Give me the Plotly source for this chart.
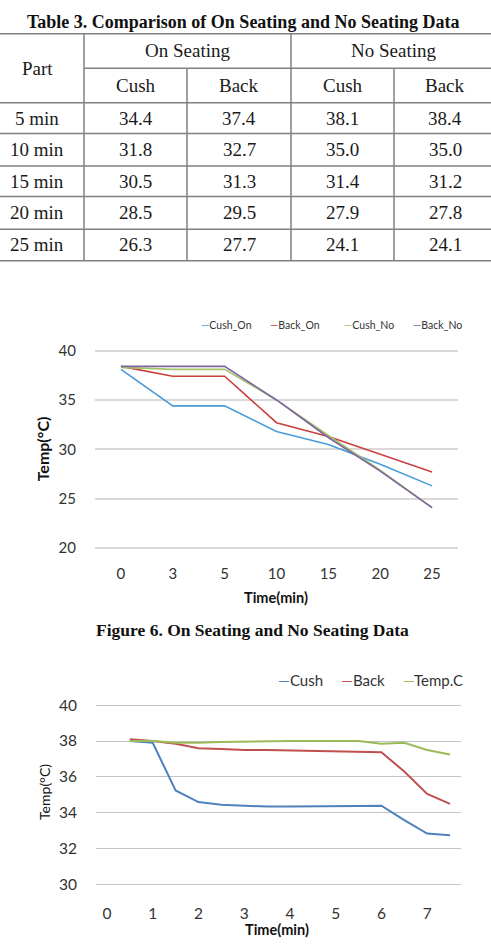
import plotly.graph_objects as go

W, H = 491, 948

# ---------------- data ----------------
parts = ["5 min", "10 min", "15 min", "20 min", "25 min"]
on_cush = [34.4, 31.8, 30.5, 28.5, 26.3]
on_back = [37.4, 32.7, 31.3, 29.5, 27.7]
no_cush = [38.1, 35.0, 31.4, 27.9, 24.1]
no_back = [38.4, 35.0, 31.2, 27.8, 24.1]

fig1_times = ["0", "3", "5", "10", "15", "20", "25"]
cush_on = [38.1, 34.4, 34.4, 31.8, 30.5, 28.5, 26.3]
back_on = [38.4, 37.4, 37.4, 32.7, 31.3, 29.5, 27.7]
cush_no = [38.3, 38.1, 38.1, 35.0, 31.4, 27.9, 24.1]
back_no = [38.4, 38.4, 38.4, 35.0, 31.2, 27.8, 24.1]

fig2_times = [0.5, 1.0, 1.5, 2.0, 2.5, 3.0, 3.5, 4.0, 4.5, 5.0, 5.5, 6.0, 6.5, 7.0, 7.5]
cush2 = [38.0, 37.9, 35.25, 34.6, 34.45, 34.38, 34.35, 34.35, 34.35, 34.35, 34.38, 34.4, 33.6, 32.85, 32.75]
back2 = [38.1, 38.0, 37.85, 37.6, 37.55, 37.5, 37.5, 37.48, 37.45, 37.42, 37.4, 37.38, 36.3, 35.05, 34.5]
tempc = [38.0, 38.0, 37.9, 37.9, 37.95, 37.98, 38.0, 38.0, 38.0, 38.0, 38.0, 37.85, 37.9, 37.5, 37.25]

# ---------------- styles ----------------
SERIF = "Liberation Serif"
SANS = "Lato"
C1 = {"Cush_On": "#4a9cd6", "Back_On": "#c9413f", "Cush_No": "#a5c468", "Back_No": "#8064a2"}
C2 = {"Cush": "#4f81bd", "Back": "#c0504d", "Temp.C": "#9bbb59"}

def py(px):
    return 1 - px / H

def pxx(px):
    return px / W

fig = go.Figure()

# Chart 1 (categorical time axis)
for name, vals in [("Cush_On", cush_on), ("Back_On", back_on), ("Cush_No", cush_no), ("Back_No", back_no)]:
    fig.add_trace(go.Scatter(x=fig1_times, y=vals, mode="lines", name=name,
                             line=dict(color=C1[name], width=1.6), xaxis="x", yaxis="y",
                             showlegend=False))

# Chart 2
for name, vals in [("Cush", cush2), ("Back", back2), ("Temp.C", tempc)]:
    fig.add_trace(go.Scatter(x=fig2_times, y=vals, mode="lines", name=name,
                             line=dict(color=C2[name], width=2), xaxis="x2", yaxis="y2",
                             showlegend=False))

# invisible anchor trace for table axis
fig.add_trace(go.Scatter(x=[0], y=[0], mode="markers", marker=dict(opacity=0),
                         xaxis="x3", yaxis="y3", showlegend=False, hoverinfo="skip"))

# ---------------- table (drawn on its own pixel-unit axis) ----------------
col_edges = [-10, 84, 187, 291, 394, 496]
row_edges = [27, 62, 97, 128, 161, 192, 225, 257]
line_col = "#808080"
shapes = []
def tline(x0, y0, x1, y1):
    shapes.append(dict(type="line", xref="x3", yref="y3", x0=x0, y0=y0, x1=x1, y1=y1,
                       line=dict(color=line_col, width=1.5), layer="above"))
tline(0, row_edges[0], W, row_edges[0])
tline(col_edges[1], row_edges[1], W, row_edges[1])
for r in row_edges[2:]:
    tline(0, r, W, r)
tline(col_edges[1], row_edges[0], col_edges[1], row_edges[-1])
tline(col_edges[3], row_edges[0], col_edges[3], row_edges[-1])
tline(col_edges[2], row_edges[1], col_edges[2], row_edges[-1])
tline(col_edges[4], row_edges[1], col_edges[4], row_edges[-1])

annotations = []
def cell(text, xc, yc, size=19, bold=False, color="#1a1a1a"):
    annotations.append(dict(text=("<b>%s</b>" % text) if bold else text, x=xc, y=yc,
                            xref="x3", yref="y3", showarrow=False,
                            font=dict(family=SERIF, size=size, color=color),
                            xanchor="center", yanchor="middle"))

cc = [(col_edges[i] + col_edges[i + 1]) / 2 for i in range(5)]
cell("Part", cc[0], (row_edges[0] + row_edges[2]) / 2)
cell("On Seating", (col_edges[1] + col_edges[3]) / 2, (row_edges[0] + row_edges[1]) / 2)
cell("No Seating", (col_edges[3] + col_edges[5]) / 2, (row_edges[0] + row_edges[1]) / 2)
for i, t in enumerate(["Cush", "Back", "Cush", "Back"]):
    cell(t, cc[i + 1], (row_edges[1] + row_edges[2]) / 2)
for r, p in enumerate(parts):
    yc = (row_edges[r + 2] + row_edges[r + 3]) / 2
    cell(p, cc[0], yc)
    for c, arr in enumerate([on_cush, on_back, no_cush, no_back]):
        cell("%.1f" % arr[r], cc[c + 1], yc)

# titles
annotations.append(dict(text="<b>Table 3. Comparison of On Seating and No Seating Data</b>",
                        x=pxx(243), y=py(15), xref="paper", yref="paper", showarrow=False,
                        font=dict(family=SERIF, size=18, color="#111"), xanchor="center", yanchor="middle"))
annotations.append(dict(text="<b>Figure 6. On Seating and No Seating Data</b>",
                        x=pxx(253), y=py(631), xref="paper", yref="paper", showarrow=False,
                        font=dict(family=SERIF, size=17.5, color="#111"), xanchor="center", yanchor="middle"))

# axis titles
def ann(text, xpx, ypx, size, angle=0, bold=True, color="#111", family=SANS):
    annotations.append(dict(text=("<b>%s</b>" % text) if bold else text, x=pxx(xpx), y=py(ypx),
                            xref="paper", yref="paper", showarrow=False, textangle=angle,
                            font=dict(family=family, size=size, color=color),
                            xanchor="center", yanchor="middle"))
ann("Temp(°C)", 42, 448, 16, angle=-90)
ann("Time(min)", 276, 598, 14.5)
ann("Temp(°C)", 45, 795, 14, angle=-90, bold=False)
ann("Time(min)", 277, 934, 14.5)

# manual compact legends
def leg(items, colors, y, x_starts, size):
    for (name, x0) in zip(items, x_starts):
        annotations.append(dict(text="<span style='color:%s'>—</span>%s" % (colors[name], name),
                                x=pxx(x0), y=py(y), xref="paper", yref="paper", showarrow=False,
                                font=dict(family=SANS, size=size, color="#333"),
                                xanchor="left", yanchor="middle"))
leg(["Cush_On", "Back_On", "Cush_No", "Back_No"], C1, 322, [199, 268, 342, 411], 10.5)
leg(["Cush", "Back", "Temp.C"], C2, 682, [276, 339, 401], 15)

tickfont1 = dict(family=SANS, size=15, color="#333")
tickfont2 = dict(family=SANS, size=15.5, color="#333")

fig.update_layout(
    width=W, height=H, margin=dict(l=0, r=0, t=0, b=0),
    paper_bgcolor="white", plot_bgcolor="rgba(0,0,0,0)",
    shapes=shapes, annotations=annotations, showlegend=False,
    xaxis=dict(domain=[pxx(95), pxx(458)], range=[-0.5, 6.5], type="category",
               showgrid=False, zeroline=False, showline=False, ticks="",
               tickfont=tickfont1, ticklabelstandoff=12, anchor="y", fixedrange=True),
    yaxis=dict(domain=[py(551), py(345)], range=[19.7, 40.3], tickvals=[20, 25, 30, 35, 40],
               showgrid=True, gridcolor="#d9d9d9", gridwidth=1.5, zeroline=False,
               showline=False, ticks="", tickfont=tickfont1, ticklabelstandoff=18,
               anchor="x", fixedrange=True),
    xaxis2=dict(domain=[pxx(96), pxx(461)], range=[-0.24, 7.74], dtick=1, tick0=0,
                showgrid=False, zeroline=False, showline=False, ticks="",
                tickfont=tickfont2, ticklabelstandoff=14, anchor="y2", fixedrange=True),
    yaxis2=dict(domain=[py(892.6), py(703.4)], range=[29.8, 40.2], tickvals=[30, 32, 34, 36, 38, 40],
                showgrid=True, gridcolor="#c4c4c4", gridwidth=1.2, zeroline=False,
                showline=False, ticks="", tickfont=tickfont2, ticklabelstandoff=18,
                anchor="x2", fixedrange=True),
    xaxis3=dict(domain=[0, 1], range=[0, W], visible=False, anchor="y3", fixedrange=True),
    yaxis3=dict(domain=[0, 1], range=[H, 0], visible=False, anchor="x3", fixedrange=True),
)

fig.write_html("out.html", config={"displayModeBar": False})
